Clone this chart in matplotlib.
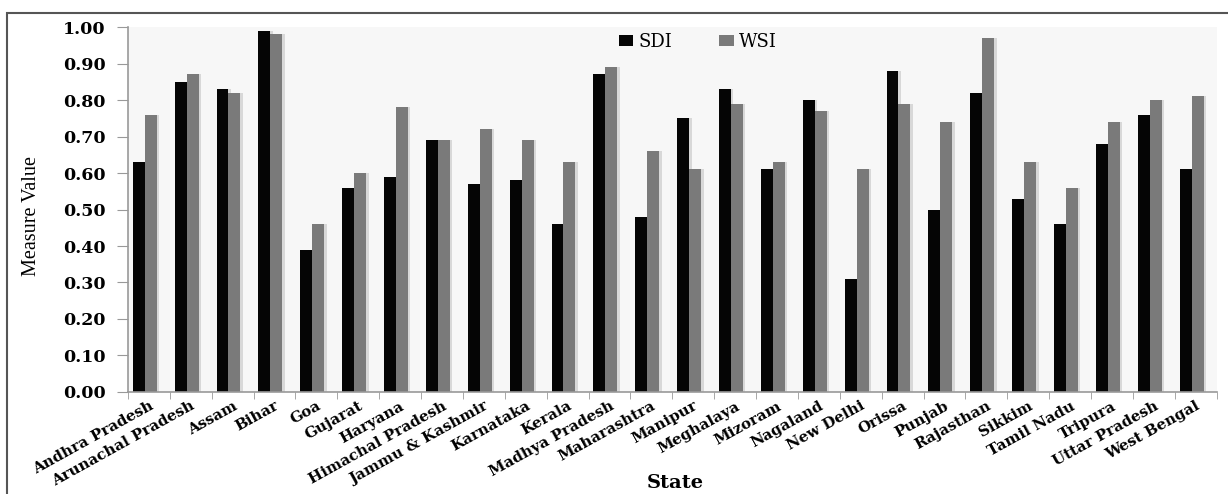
import numpy as np
import matplotlib
matplotlib.use('Agg')
import matplotlib.pyplot as plt
from matplotlib.patches import Rectangle

# data
states = ['Andhra Pradesh', 'Arunachal Pradesh', 'Assam', 'Bihar', 'Goa',
          'Gujarat', 'Haryana', 'Himachal Pradesh', 'Jammu & Kashmir',
          'Karnataka', 'Kerala', 'Madhya Pradesh', 'Maharashtra', 'Manipur',
          'Meghalaya', 'Mizoram', 'Nagaland', 'New Delhi', 'Orissa', 'Punjab',
          'Rajasthan', 'Sikkim', 'Tamil Nadu', 'Tripura', 'Uttar Pradesh',
          'West Bengal']
sdi = [0.63, 0.85, 0.83, 0.99, 0.39, 0.56, 0.59, 0.69, 0.57, 0.58, 0.46,
       0.87, 0.48, 0.75, 0.83, 0.61, 0.80, 0.31, 0.88, 0.50, 0.82, 0.53,
       0.46, 0.68, 0.76, 0.61]
wsi = [0.76, 0.87, 0.82, 0.98, 0.46, 0.60, 0.78, 0.69, 0.72, 0.69, 0.63,
       0.89, 0.66, 0.61, 0.79, 0.63, 0.77, 0.61, 0.79, 0.74, 0.97, 0.63,
       0.56, 0.74, 0.80, 0.81]
yticks = [0.0, 0.1, 0.2, 0.3, 0.4, 0.5, 0.6, 0.7, 0.8, 0.9, 1.0]

wide = 'DejaVu Serif'
narrow = 'Liberation Serif'

fig = plt.figure(figsize=(12.28, 4.94), dpi=100)
ax = fig.add_axes([0.1042, 0.2065, 0.8866, 0.7388])

# outer frame
fig.patches.append(Rectangle((7 / 1228, -0.05), 1.1, 0.974 + 0.05,
                             transform=fig.transFigure, fill=False,
                             edgecolor='#555555', linewidth=1.5))

x = np.arange(len(states))
w = 0.285
off = -0.1

# faint shadows
ax.bar(x + off - w / 2 + 0.06, sdi, w, color='#d8d8d8', zorder=1)
ax.bar(x + off + w / 2 + 0.06, wsi, w, color='#d8d8d8', zorder=1)

ax.bar(x + off - w / 2, sdi, w, color='#050505', label='SDI', zorder=2)
ax.bar(x + off + w / 2, wsi, w, color='#7a7a7a', label='WSI', zorder=2)

ax.set_facecolor('#f7f7f7')
ax.set_xlim(-0.5, len(states) - 0.5)
ax.set_ylim(0, 1.0)

ax.set_yticks(yticks)
ax.set_yticklabels(['%.2f' % v for v in yticks], fontfamily=wide,
                   fontweight='bold', fontsize=12.5)
ax.tick_params(axis='y', length=8, color='#999999', pad=8)

ax.set_xticks(x)
ax.set_xticklabels(states, rotation=29, ha='right', va='top',
                   rotation_mode='anchor', fontfamily=wide,
                   fontweight='bold', fontsize=10.8)
ax.tick_params(axis='x', which='major', length=0, pad=5)
ax.set_xticks(np.arange(len(states) + 1) - 0.5, minor=True)
ax.tick_params(axis='x', which='minor', length=5, color='#999999')

for s in ['top', 'right']:
    ax.spines[s].set_visible(False)
for s in ['left', 'bottom']:
    ax.spines[s].set_color('#999999')
    ax.spines[s].set_linewidth(1.2)

fig.text(31 / 1228, 0.563, 'Measure Value', fontfamily=narrow, fontsize=14.5,
         rotation=90, ha='center', va='center')
fig.text(675 / 1228, 0.004, 'State', fontfamily=wide, fontweight='bold',
         fontsize=14, ha='center', va='bottom')

fig.legend(*ax.get_legend_handles_labels(), loc='center',
           bbox_to_anchor=(698 / 1228, 0.915), ncol=2, frameon=False,
           prop={'family': wide, 'size': 13},
           handlelength=0.8, handleheight=0.6, handletextpad=0.3,
           columnspacing=2.6)

fig.savefig('out.png', dpi=100)
